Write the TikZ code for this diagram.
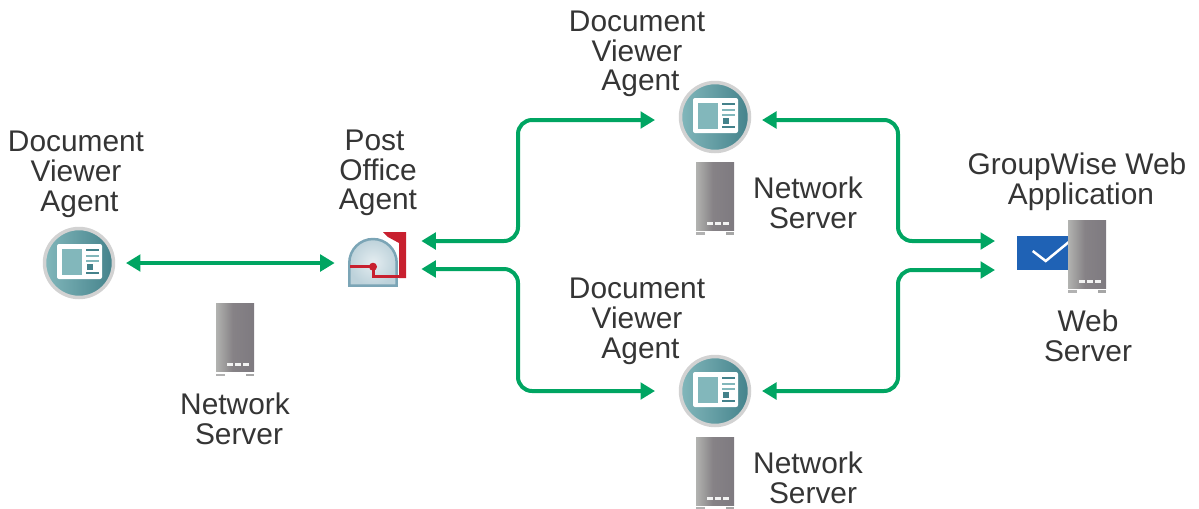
\documentclass[tikz,border=0pt]{standalone}
\usepackage{fontspec}
\setmainfont{Liberation Sans}
\usetikzlibrary{arrows.meta}
\definecolor{linkgreen}{HTML}{00A562}
\definecolor{labelgray}{HTML}{353535}
\definecolor{tealleft}{HTML}{82B7BB}
\definecolor{tealright}{HTML}{44828B}
\definecolor{mailred}{HTML}{C8202F}
\definecolor{domeblue}{HTML}{7BA5B6}
\definecolor{mailblue}{HTML}{1F62B5}
\definecolor{serverlight}{HTML}{B2B3B0}
\definecolor{servermid}{HTML}{868286}
\definecolor{serverdark}{HTML}{7E7A80}
\pgfdeclarehorizontalshading{servershade}{100bp}{color(0bp)=(serverlight); color(25bp)=(serverlight); color(47bp)=(servermid); color(75bp)=(serverdark); color(100bp)=(serverdark)}
\tikzset{
	link/.style={linkgreen, line width=.08cm, rounded corners=.28cm, {Triangle[width=.33cm,length=.29cm]}-{Triangle[width=.33cm,length=.29cm]}},
	label/.style={labelgray, align=center, inner sep=0pt, font=\fontsize{17}{16.9}\selectfont},
	viewer/.style={circle, draw=gray!35, line width=.07cm, left color=tealleft, right color=tealright, minimum size=1.38cm, inner sep=0pt, outer sep=.25cm},
	server/.style={rectangle, shading=servershade, minimum width=.76cm, minimum height=1.36cm, inner sep=0pt},
}
\begin{document}
\begin{tikzpicture}[x=.02cm, y=-.02cm]
		\clip (0,0) rectangle (1199,508);

		\node[label] (labelLeft) at (76,174.5) {Document\\Viewer\\\hspace*{.14cm}Agent};
		\node[label] (labelPoa) at (378,173) {Post\hspace*{.14cm}\\Office\hspace*{.14cm}\\Agent};
		\node[label] (labelTop) at (637,54) {Document\\Viewer\\\hspace*{.14cm}Agent};
		\node[label] (labelBottom) at (637,321.5) {Document\\Viewer\\\hspace*{.14cm}Agent};
		\node[label] (labelWebApp) at (1077,182) {GroupWise Web\\\hspace*{.16cm}Application};
		\node[label] (labelWebServer) at (1088,336) {Web\\Server};
		\node[label] (labelNetLeft) at (235,419) {Network\\\hspace*{.16cm}Server};
		\node[label] (labelNetTop) at (808,203) {Network\\\hspace*{.2cm}Server};
		\node[label] (labelNetBottom) at (808,478) {Network\\\hspace*{.2cm}Server};

		\node[viewer] (dvaLeft) at (79,263) {};
		\node[viewer] (dvaTop) at (715,117) {};
		\node[viewer] (dvaBottom) at (715,391) {};
		\node[minimum width=1.72cm, minimum height=1.16cm, inner sep=0pt] (poa) at (378,255) {};
		\node[fill=mailblue, minimum width=1.12cm, minimum height=.68cm, inner sep=0pt, outer sep=.44cm] (mail) at (1045,252.5) {};

		\foreach \n in {dvaLeft, dvaTop, dvaBottom} {
			\begin{scope}[shift={(\n)}]
				\fill[white, rounded corners=.04cm] (-22,-19) rectangle (23,16);
				\fill[tealleft] (-17,-14.5) rectangle (3,11.5);
				\draw[tealright, line width=.04cm] (7,-12.8) -- (19.5,-12.8);
				\draw[tealleft, line width=.04cm] (7,-7) -- (19.5,-7) (7,-2.5) -- (19.5,-2.5);
				\fill[tealright] (7.5,1) rectangle (13.5,6.5);
				\draw[tealright, line width=.04cm] (7,9.8) -- (19.5,9.8);
			\end{scope}
		}

		\fill[mailred] (383,232) -- (406,232) -- (406,278) -- (399,278) -- (399,243) -- (388,237) -- cycle;
		\filldraw[draw=domeblue, line width=.05cm, inner color=white!80!domeblue, outer color=domeblue!50!white] (349.3,285.7) -- (349.3,262.7) arc[start angle=180, end angle=0, radius=.474cm] -- (396.7,285.7) -- cycle;
		\draw[mailred, line width=.06cm] (350,266.7) -- (373,266.7) -- (373,276.7) -- (400,276.7);
		\fill[mailred] (373,266.7) circle[radius=.08cm];

		\draw[white, line width=.05cm] (1032.7,251) -- (1045.7,261) -- (1070,241);

		\node[server] (serverLeft) at (235,337.5) {};
		\node[server] (serverTop) at (715,196) {};
		\node[server] (serverBottom) at (715,471) {};
		\node[server] (serverWeb) at (1087,254) {};

		\foreach \n in {serverLeft, serverTop, serverBottom, serverWeb} {
			\begin{scope}[shift={(\n)}]
				\foreach \x in {-5,3,11} {
					\fill[white!90!gray] (\x-3,25.5) rectangle (\x+3,28.5);
				}
				\fill[gray!60] (-19,36) rectangle (-10,38.5);
				\fill[gray!70] (11,36) rectangle (19,38.5);
			\end{scope}
		}

		\draw[link] (dvaLeft.east) -- (dvaLeft.east -| poa.west);
		\draw[link] ([yshift=.28cm]poa.east) -- (518,241) -- (518,120) -- ([xshift=-.26cm,yshift=-.06cm]dvaTop.west);
		\draw[link] ([yshift=-.28cm]poa.east) -- (518,269) -- (518,391) -- ([xshift=-.26cm]dvaBottom.west);
		\draw[link] ([yshift=-.06cm]dvaTop.east) -- (898,120) -- (898,241) -- ([yshift=.23cm]mail.west);
		\draw[link] (dvaBottom.east) -- (898,391) -- (898,270) -- ([yshift=-.35cm]mail.west);
	\end{tikzpicture}
\end{document}
